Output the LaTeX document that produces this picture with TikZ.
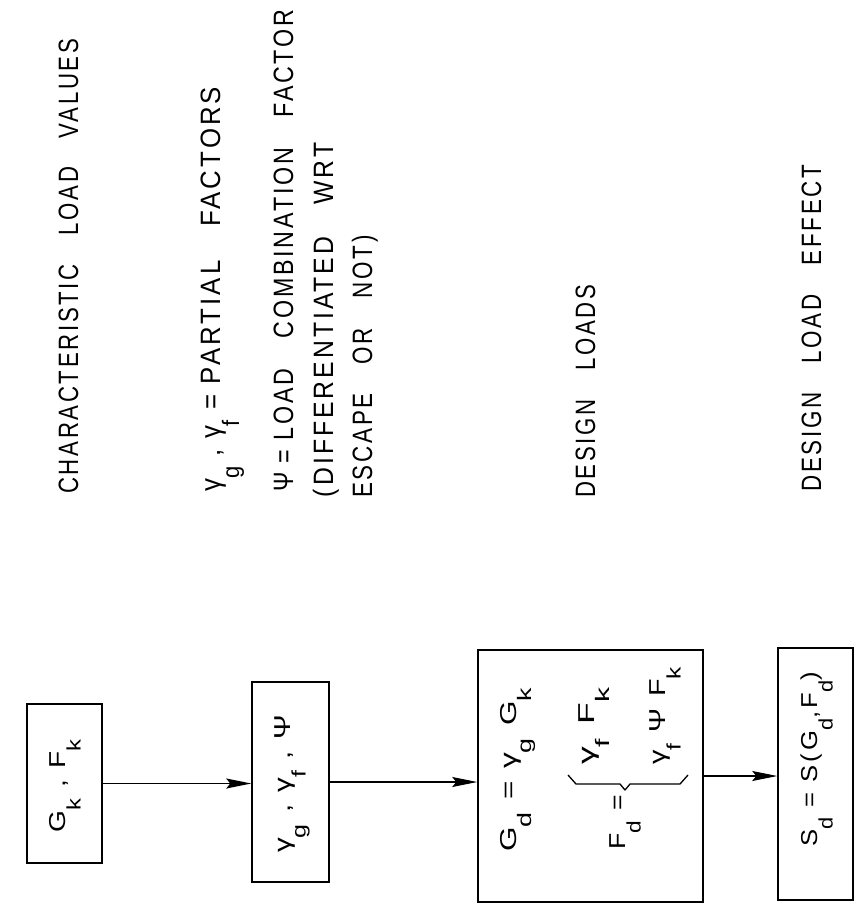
\documentclass[tikz,border=0pt]{standalone}
\usepackage{fontspec}
\usepackage{graphicx}
\setmainfont{Liberation Sans}
\newfontfamily\pf[LetterSpace=12]{Liberation Sans}
\usetikzlibrary{arrows.meta}
\newcommand\sbx[1]{\raisebox{-0.68em}{\scalebox{0.85}{#1}}}
\newcommand\lab[2]{\resizebox{#1pt}{\height}{\pf\fontsize{28}{30}\selectfont #2}}
\newcommand\btx[2]{\resizebox{#1pt}{\height}{\pf\fontsize{23}{25}\selectfont #2}}
\newcommand\wg{\hspace{1.3em}}
\begin{document}
\begin{tikzpicture}[x=1pt,y=-1pt,
  boxnode/.style={draw,line width=1.5pt,inner sep=0pt},
  lbl/.style={rotate=90,anchor=base west,inner sep=0pt},
  arr/.style={line width=1.4pt,-{Stealth[length=25pt,width=10pt,inset=4pt]}}]
\useasboundingbox (0,0) rectangle (860,912);
\fill[white] (0,0) rectangle (860,912);

% boxes
\node[boxnode,minimum width=75pt,minimum height=159pt] (b1) at (64.5,783.5) {};
\node[boxnode,minimum width=77pt,minimum height=200pt] (b2) at (290.5,782) {};
\node[boxnode,minimum width=225pt,minimum height=252pt] (b3) at (590.5,776) {};
\node[boxnode,minimum width=75pt,minimum height=252pt] (b4) at (815.5,774) {};

% labels
\node[lbl] (t1) at (78,494) {\lab{455}{CHARACTERISTIC\wg LOAD\wg VALUES}};
\node[lbl] (t2) at (220,492) {\lab{405}{γ\sbx{g} , γ\sbx{f} = PARTIAL\wg FACTORS}};
\node[lbl] (t3) at (293,492) {\lab{482}{Ψ = LOAD\wg COMBINATION\wg FACTOR}};
\node[lbl] (t4) at (333,498) {\lab{355}{(\,DIFFERENTIATED\wg WRT}};
\node[lbl] (t5) at (372,498) {\lab{263}{ESCAPE\wg OR\wg NOT\,)}};
\node[lbl] (t6) at (595,498) {\lab{213}{DESIGN\wg LOADS}};
\node[lbl] (t7) at (821,492) {\lab{327}{DESIGN\wg LOAD\wg EFFECT}};

% box contents
\node[lbl] (x1) at (65,833) {\btx{93}{G\sbx{k} , F\sbx{k}}};
\node[lbl] (x2) at (290,853) {\btx{138}{γ\sbx{g} , γ\sbx{f} , Ψ}};
\node[lbl] (x3) at (516,852) {\btx{164}{G\sbx{d} = γ\sbx{g} G\sbx{k}}};
\node[lbl] (x4) at (625,850) {\btx{55}{F\sbx{d} =}};
\node[lbl] (x5) at (594,765) {\btx{77}{γ\sbx{f} F\sbx{k}}};
\node[lbl] (x6) at (665,765) {\btx{98}{γ\sbx{f} Ψ F\sbx{k}}};
\node[lbl] (x7) at (817,847) {\btx{175}{S\sbx{d} = S(G\sbx{d},F\sbx{d})}};

% brace
\draw[line width=1.3pt,line join=round] (568,775) -- (576,784) -- (620,784) -- (625,790) -- (630,784) -- (680,784) -- (688,775);

% arrows
\draw[arr] (b1.east) -- (b1.east -| b2.west);
\draw[arr] (b2.east) -- (b2.east -| b3.west);
\draw[arr] (b3.east) -- (b3.east -| b4.west);
\end{tikzpicture}
\end{document}
